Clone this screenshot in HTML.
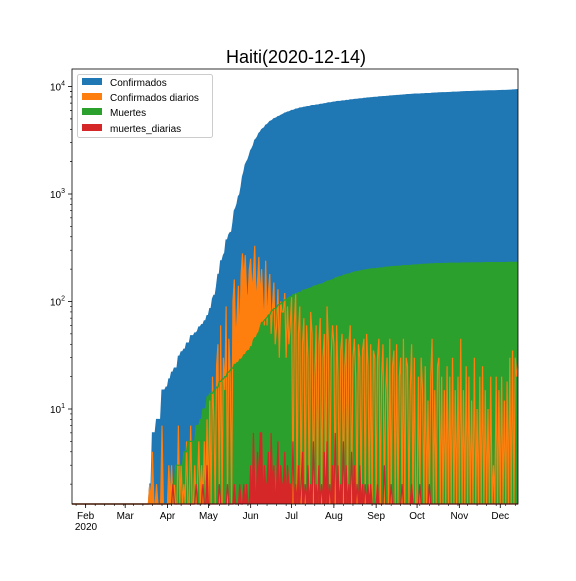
<!DOCTYPE html>
<html><head><meta charset="utf-8"><style>
body{margin:0;background:#fff;}
svg{font-family:"Liberation Sans","DejaVu Sans",sans-serif;}
</style></head><body>
<svg id="chart" width="576" height="576" viewBox="0 0 576 576">
<rect width="576" height="576" fill="#fff"/>
<text x="296" y="63" font-size="18" text-anchor="middle">Haiti(2020-12-14)</text>
<g id="plot"></g>
<g id="axes"></g>
<g>
<rect x="77.5" y="74.5" width="135" height="63" rx="2" fill="#fff" fill-opacity="0.8" stroke="#ccc"/>
<g><rect x="82" y="78" width="20" height="7" fill="#1f77b4"/><text x="110" y="86" font-size="10">Confirmados</text></g>
<g><rect x="82" y="93" width="20" height="7" fill="#ff7f0e"/><text x="110" y="101" font-size="10">Confirmados diarios</text></g>
<g><rect x="82" y="108" width="20" height="7" fill="#2ca02c"/><text x="110" y="116" font-size="10">Muertes</text></g>
<g><rect x="82" y="124" width="20" height="7" fill="#d62728"/><text x="110" y="132" font-size="10">muertes_diarias</text></g>
</g>
</svg>
<script>
// daily confirmed from 2020-03-19 (day 57)
const casesStartDay = 57;
const dailyCases = [
2,0,4,0,0,2,0,0,0,7,0,0,1,
0,3,0,3,0,2,0,0,7,0,3,0,2,0,5,0,0,7,0,0,3,0,2,5,0,3,0,5,0,8,
0,12,0,20,8,0,25,40,0,60,0,30,15,90,0,45,20,0,100,160,40,70,140,40,180,280,150,270,120,100,200,
250,120,180,330,90,150,260,100,200,100,60,240,60,120,180,50,90,150,40,60,130,30,100,80,80,120,30,90,40,60,
110,0,60,120,0,50,90,0,40,70,0,60,30,0,80,50,0,20,60,0,40,70,0,30,50,0,90,40,0,30,60,
40,0,60,20,0,35,50,0,25,45,0,40,60,0,30,45,20,0,40,30,0,35,45,0,50,25,0,40,0,35,30,
0,30,45,0,20,40,0,15,30,0,45,0,25,35,0,40,0,20,30,0,45,0,30,25,0,15,40,0,30,0,
0,20,0,30,15,0,25,0,12,0,20,45,0,15,0,25,30,0,20,0,15,0,25,0,20,0,30,0,15,0,20,
0,45,0,15,0,25,0,20,0,12,0,30,0,10,0,20,0,25,0,15,0,10,0,20,0,3,0,20,0,15,
0,20,0,12,0,18,0,30,0,35,0,30,20,25];
// daily deaths from 2020-04-01 (day 70)
const deathsStartDay = 70;
const dailyDeaths = [
0,0,0,0,2,0,1,0,0,0,0,0,1,0,0,1,0,0,0,0,0,2,0,0,1,0,2,0,0,3,
0,1,0,0,1,0,1,0,2,0,1,0,1,0,2,0,1,1,0,2,0,1,0,2,0,1,2,0,2,1,0,
3,0,6,2,0,4,2,6,6,0,3,2,2,4,0,6,2,3,0,2,5,0,3,2,2,4,0,3,2,2,
0,5,0,2,0,3,0,2,4,0,2,0,3,0,2,0,5,0,2,0,3,0,2,0,4,0,5,0,2,0,3,
0,6,0,3,0,2,0,5,0,3,0,2,0,4,0,3,0,2,0,3,0,2,0,2,0,2,0,2,0,1,0,
0,2,0,1,0,0,3,0,1,0,0,2,0,1,0,0,1,0,0,2,0,0,1,0,0,0,2,0,0,1,
0,0,2,0,0,1,0,0,0,2,0,0,0,1,0,0,0,0,1,0,0,0,0,1,0,0,0,0,0,0,0,
0,0,1,0,0,0,0,0,0,1,0,0,0,0,0,0,0,0,1,0,0,0,0,0,0,0,0,0,0,0,
0,0,0,0,0,1,0,0,0,0,0,0,0,0];
const monthLabels = ["Feb","Mar","Apr","May","Jun","Jul","Aug","Sep","Oct","Nov","Dec"];
const monthDays = [10,39,70,100,131,161,192,223,253,284,314];
const yTickExps = [1,2,3,4];

const NDAYS = 328, X0 = 72, X1 = 518, Y0 = 69, Y1 = 504;
const YDEC = 107.5;
const xs = d => X0 + d * (X1 - X0) / (NDAYS - 1);
const ys = v => { const l = v > 0 ? Math.log10(v) : -10; return Math.min(Y1, 409 - (l - 1) * YDEC); };
const NS = "http://www.w3.org/2000/svg";

function full(arr, start){ const o = new Array(NDAYS).fill(0); arr.forEach((v,i)=>{ if(start+i<NDAYS) o[start+i]=v; }); return o; }
function cum(a){ let s=0; return a.map(v=>s+=v); }
const dc = full(dailyCases, casesStartDay), dd = full(dailyDeaths, deathsStartDay);
const cc = cum(dc), cd = cum(dd);

const plot = document.getElementById('plot');
function pts(a){ return a.map((v,i)=>xs(i).toFixed(2)+','+ys(v).toFixed(2)); }
function area(a, color, name){
  const p = document.createElementNS(NS,'path');
  p.setAttribute('d','M'+xs(0)+','+Y1+' L'+pts(a).join(' L')+' L'+xs(NDAYS-1)+','+Y1+' Z');
  p.setAttribute('fill',color);
  
  
  plot.appendChild(p);
}
function line(a, color, name){
  const p = document.createElementNS(NS,'polyline');
  p.setAttribute('points',pts(a).join(' '));
  p.setAttribute('fill','none'); p.setAttribute('stroke',color); p.setAttribute('stroke-width','1.2');
  
  
  plot.appendChild(p);
}
area(cc,'#1f77b4','confirmados-area');
area(dc,'#ff7f0e','confirmados-diarios-area');
area(cd,'#2ca02c','muertes-area');
area(dd,'#d62728','muertes-diarias-area');
line(cc,'#1f77b4','confirmados-line');
line(dc,'#ff7f0e','confirmados-diarios-line');
line(cd,'#2ca02c','muertes-line');
line(dd,'#d62728','muertes-diarias-line');

const ax = document.getElementById('axes');
let h = '<rect x="'+X0+'" y="'+Y0+'" width="'+(X1-X0)+'" height="'+(Y1-Y0)+'" fill="none" stroke="#000" stroke-width="0.8"/>';
monthDays.forEach((d,i)=>{
  const x = xs(d);
  h += '<line x1="'+x+'" y1="'+Y1+'" x2="'+x+'" y2="'+(Y1+4)+'" stroke="#000" stroke-width="0.8"/>';
  h += '<text x="'+x+'" y="'+(Y1+15)+'" font-size="10" text-anchor="middle">'+monthLabels[i]+'</text>';
});
for(let d=3; d<NDAYS; d+=7){ const x=xs(d); h += '<line x1="'+x+'" y1="'+Y1+'" x2="'+x+'" y2="'+(Y1+2)+'" stroke="#000" stroke-width="0.6"/>'; }
h += '<text x="86" y="530" font-size="10" text-anchor="middle">2020</text>';
yTickExps.forEach(e=>{
  const y = ys(Math.pow(10,e));
  h += '<line x1="'+(X0-4)+'" y1="'+y+'" x2="'+X0+'" y2="'+y+'" stroke="#000" stroke-width="0.8"/>';
  h += '<text x="'+(X0-7)+'" y="'+(y+4)+'" font-size="10" text-anchor="end">10<tspan font-size="7" dy="-5">'+e+'</tspan></text>';
  for(let m=2;m<10;m++){ const v=Math.pow(10,e-1)*m; const yy=ys(v); if(yy<Y1 && yy>Y0) h += '<line x1="'+(X0-2)+'" y1="'+yy+'" x2="'+X0+'" y2="'+yy+'" stroke="#000" stroke-width="0.6"/>'; }
});
for(let m=2;m<10;m++){ const yy=ys(1000*m); if(yy>Y0) h += '<line x1="'+(X0-2)+'" y1="'+yy+'" x2="'+X0+'" y2="'+yy+'" stroke="#000" stroke-width="0.6"/>'; }
ax.innerHTML = h;
</script>
</body></html>
